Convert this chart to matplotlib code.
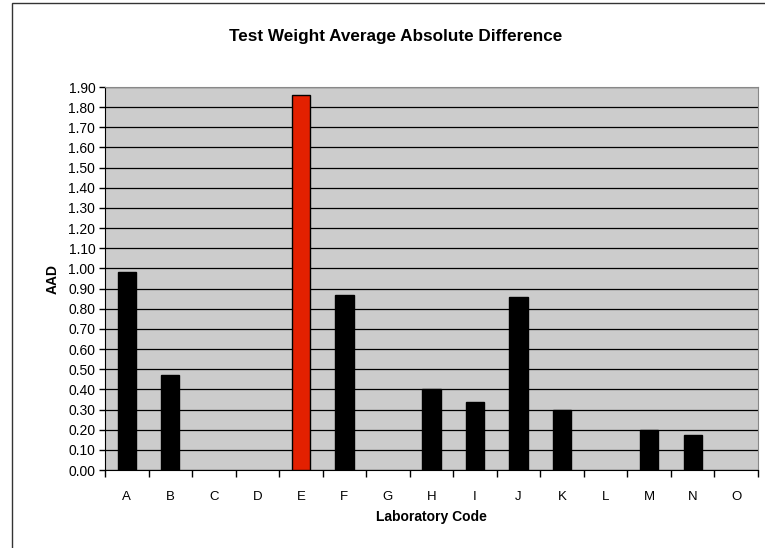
import numpy as np
import matplotlib.pyplot as plt
from matplotlib.patches import Rectangle

plt.rcParams['font.family'] = ['Liberation Sans', 'DejaVu Sans']

labs = ['A', 'B', 'C', 'D', 'E', 'F', 'G', 'H', 'I', 'J', 'K', 'L', 'M', 'N', 'O']
aad = [0.98, 0.47, 0.0, 0.0, 1.86, 0.87, 0.0, 0.40, 0.335, 0.86, 0.30, 0.0, 0.20, 0.175, 0.0]
highlight = 'E'

fig = plt.figure(figsize=(7.65, 5.48), dpi=100)
# outer chart border (only left and top visible)
fig.patches.append(Rectangle((12 / 765, -0.1), 1.2, (548 - 3) / 548 + 0.1,
                             transform=fig.transFigure, fill=False,
                             edgecolor='#333333', linewidth=1.0))

ax = fig.add_axes([105 / 765, 78 / 548, 653 / 765, 383 / 548])
ax.set_facecolor('#cccccc')

x = np.arange(len(labs))
cols = ['#e32000' if l == highlight else 'black' for l in labs]
edges = ['black' if v > 0 else 'none' for v in aad]
ax.bar(x, aad, width=0.42, color=cols, edgecolor=edges, linewidth=1.0, zorder=3)

ax.set_xlim(-0.5, len(labs) - 0.5)
ax.set_ylim(0, 1.9)
ax.set_yticks(np.arange(0, 1.91, 0.1))
ax.set_yticklabels(['%.2f' % v for v in np.arange(0, 1.91, 0.1)], fontsize=10)
ax.yaxis.grid(True, color='black', linewidth=0.9, zorder=1)
ax.set_axisbelow(True)

ax.set_xticks(x)
ax.set_xticklabels(labs, fontsize=9.5)
ax.set_xticks(np.arange(-0.5, len(labs), 1), minor=True)
ax.tick_params(axis='x', which='major', length=0, pad=15)
ax.tick_params(axis='x', which='minor', length=5, width=1, color='black', direction='out')
ax.tick_params(axis='y', length=4, width=1, direction='out', pad=3)

for s in ['top', 'right']:
    ax.spines[s].set_color('#888888')
for s in ['left', 'bottom']:
    ax.spines[s].set_color('black')

ax.set_xlabel('Laboratory Code', fontsize=10, fontweight='bold', labelpad=5)
ax.set_ylabel('AAD', fontsize=10, fontweight='bold', labelpad=6)
fig.text(396 / 765, (548 - 36) / 548, 'Test Weight Average Absolute Difference',
         ha='center', va='center', fontsize=12.3, fontweight='bold')

fig.savefig('out.png', dpi=100)
